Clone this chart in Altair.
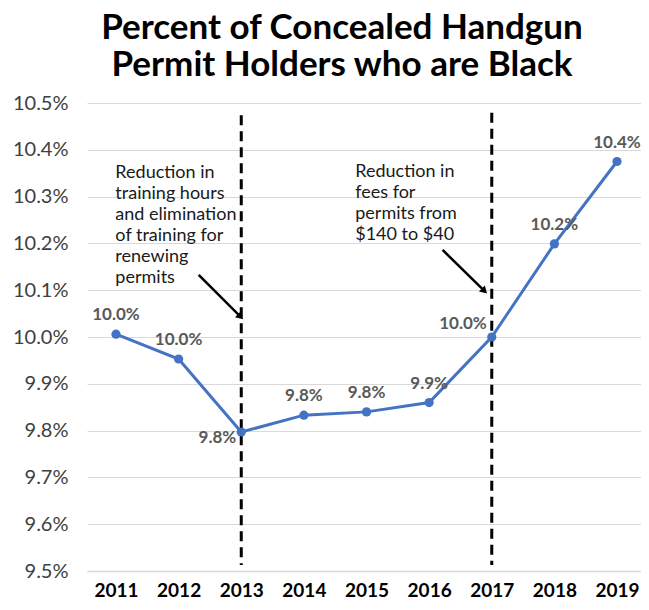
import altair as alt
import pandas as pd

years = [2011, 2012, 2013, 2014, 2015, 2016, 2017, 2018, 2019]
pct = [10.006, 9.953, 9.797, 9.833, 9.840, 9.860, 10.000, 10.199, 10.375]
labels = ["10.0%", "10.0%", "9.8%", "9.8%", "9.8%", "9.9%", "10.0%", "10.2%", "10.4%"]
low_left_years = [2013]
high_left_years = [2017]

y_ticks = [9.5, 9.6, 9.7, 9.8, 9.9, 10.0, 10.1, 10.2, 10.3, 10.4, 10.5]

event_years = [2013, 2017]
event_top = [10.474, 10.479]
event_bottom = [9.513, 9.513]

note_text = [
    "Reduction in\ntraining hours\nand elimination\nof training for\nrenewing\npermits",
    "Reduction in\nfees for\npermits from\n$140 to $40",
]
note_x = [2010.99, 2014.82]
note_y = [10.370, 10.372]

arrow_x1 = [2012.32, 2016.215]
arrow_y1 = [10.1325, 10.186]
arrow_x2 = [2012.975, 2016.87]
arrow_y2 = [10.045, 10.100]

FONT = "Lato"
df = pd.DataFrame({"year": years, "pct": pct, "label": labels})
df["pos"] = "top"
df.loc[df["year"].isin(low_left_years), "pos"] = "lowleft"
df.loc[df["year"].isin(high_left_years), "pos"] = "highleft"
events = pd.DataFrame({"year": event_years, "top": event_top, "bottom": event_bottom})
notes = pd.DataFrame({"x": note_x, "y": note_y, "text": note_text})
arrows = pd.DataFrame({"x1": arrow_x1, "y1": arrow_y1, "x2": arrow_x2, "y2": arrow_y2})

xscale = alt.Scale(domain=[2010.537, 2019.383], nice=False, zero=False)
yscale = alt.Scale(domain=[9.5, 10.5], nice=False, zero=False)

xax = alt.Axis(values=years, format="d", title=None, grid=False, domain=True,
               domainColor="#d9d9d9", domainWidth=1.5, ticks=False,
               labelFont=FONT, labelFontSize=19, labelFontWeight="bold",
               labelColor="#000000", labelPadding=10)
yax = alt.Axis(values=y_ticks, title=None, grid=True, gridColor="#d9d9d9",
               gridWidth=1.2, domain=False, ticks=False,
               labelExpr="format(datum.value, '.1f') + '%'",
               labelFont=FONT, labelFontSize=20, labelColor="#404040",
               labelPadding=19)

base = alt.Chart(df)
X = alt.X("year:Q", scale=xscale)
Y = alt.Y("pct:Q", scale=yscale)

line = base.mark_line(color="#4472C4", strokeWidth=3).encode(
    x=alt.X("year:Q", scale=xscale, axis=xax),
    y=alt.Y("pct:Q", scale=yscale, axis=yax),
)
pts = base.mark_point(color="#4472C4", filled=True, size=85, opacity=1).encode(x=X, y=Y)

lab_style = dict(font=FONT, fontSize=17, fontWeight="bold", color="#595959")
lab_top = base.transform_filter("datum.pos == 'top'").mark_text(dy=-19, **lab_style).encode(
    x=X, y=Y, text="label:N")
lab_low = base.transform_filter("datum.pos == 'lowleft'").mark_text(
    align="right", dx=-5, dy=6, **lab_style).encode(x=X, y=Y, text="label:N")
lab_high = base.transform_filter("datum.pos == 'highleft'").mark_text(
    align="right", dx=-5, dy=-13, **lab_style).encode(x=X, y=Y, text="label:N")

rules = alt.Chart(events).mark_rule(color="#000000", strokeWidth=3, strokeDash=[10, 6]).encode(
    x=alt.X("year:Q", scale=xscale), y=alt.Y("top:Q", scale=yscale), y2="bottom:Q"
)
note_marks = alt.Chart(notes).mark_text(
    font=FONT, fontSize=18, color="#1a1a1a", align="left", baseline="top",
    lineBreak="\n", lineHeight=21
).encode(x=alt.X("x:Q", scale=xscale), y=alt.Y("y:Q", scale=yscale), text="text:N")
arrow_lines = alt.Chart(arrows).mark_rule(color="#000000", strokeWidth=2.5).encode(
    x=alt.X("x1:Q", scale=xscale), y=alt.Y("y1:Q", scale=yscale), x2="x2:Q", y2="y2:Q"
)
arrow_heads = alt.Chart(arrows).mark_point(
    shape="triangle", filled=True, color="#000000", size=70, angle=135, opacity=1
).encode(x=alt.X("x2:Q", scale=xscale), y=alt.Y("y2:Q", scale=yscale))

chart = alt.layer(rules, line, pts, lab_top, lab_low, lab_high, note_marks, arrow_lines, arrow_heads).properties(
    width=554, height=468,
    autosize=alt.AutoSizeParams(type="none"),
    padding={"left": 79, "top": 95, "right": 0, "bottom": 30},
    title=alt.TitleParams(
        text=["Percent of Concealed Handgun", "Permit Holders who are Black"],
        font=FONT, fontSize=35, fontWeight="bold", color="#000000",
        anchor="middle", dx=-22, offset=10, lineHeight=37,
    ),
).configure_view(stroke=None)

chart.save("out.html", embed_options={"renderer": "svg", "actions": False})
